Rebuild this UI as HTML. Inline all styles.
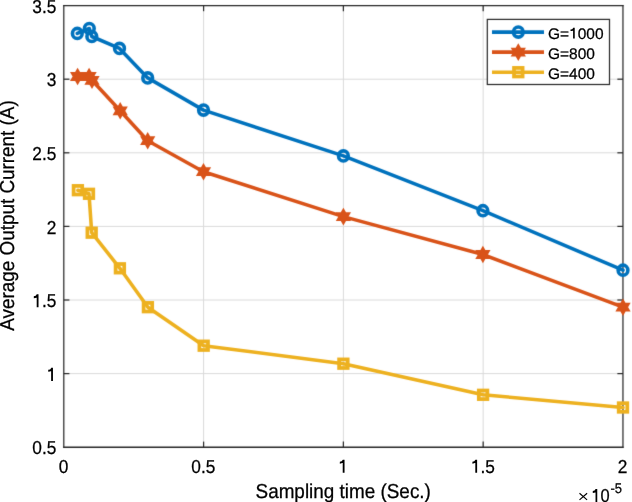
<!DOCTYPE html>
<html><head><meta charset="utf-8"><style>
html,body{margin:0;padding:0;background:#fff;width:632px;height:502px;overflow:hidden}
svg{display:block}
text{font-family:"Liberation Sans",sans-serif;text-rendering:geometricPrecision;fill:#000;stroke:#000;stroke-width:0.25px}
.h{fill:none;stroke:none}
</style></head><body>
<svg width="632" height="502" viewBox="0 0 632 502">
<defs><filter id="bl" color-interpolation-filters="sRGB" filterUnits="userSpaceOnUse" x="-10" y="-10" width="652" height="522"><feConvolveMatrix order="3" kernelMatrix="0.01000 0.08000 0.01000 0.08000 0.64000 0.08000 0.01000 0.08000 0.01000" divisor="1" edgeMode="duplicate" preserveAlpha="true"/></filter></defs>
<g filter="url(#bl)">
<rect x="-10" y="-10" width="652" height="522" fill="#fff"/>
<line x1="203.59" y1="5.6" x2="203.59" y2="447.2" stroke="#dadada" stroke-width="1"/>
<line x1="343.38" y1="5.6" x2="343.38" y2="447.2" stroke="#dadada" stroke-width="1"/>
<line x1="483.17" y1="5.6" x2="483.17" y2="447.2" stroke="#dadada" stroke-width="1"/>
<line x1="63.8" y1="373.6" x2="622.96" y2="373.6" stroke="#dadada" stroke-width="1"/>
<line x1="63.8" y1="300" x2="622.96" y2="300" stroke="#dadada" stroke-width="1"/>
<line x1="63.8" y1="226.4" x2="622.96" y2="226.4" stroke="#dadada" stroke-width="1"/>
<line x1="63.8" y1="152.8" x2="622.96" y2="152.8" stroke="#dadada" stroke-width="1"/>
<line x1="63.8" y1="79.2" x2="622.96" y2="79.2" stroke="#dadada" stroke-width="1"/>
<path d="M63.19,5.6H623.57M63.19,447.2H623.57" stroke="#262626" stroke-width="1.4" fill="none"/>
<path d="M63.8,4.9V447.9M622.96,4.9V447.9" stroke="#262626" stroke-width="1.22" fill="none"/>
<line x1="203.59" y1="447.2" x2="203.59" y2="441.6" stroke="#262626" stroke-width="1.22"/>
<line x1="203.59" y1="5.6" x2="203.59" y2="11.2" stroke="#262626" stroke-width="1.22"/>
<line x1="343.38" y1="447.2" x2="343.38" y2="441.6" stroke="#262626" stroke-width="1.22"/>
<line x1="343.38" y1="5.6" x2="343.38" y2="11.2" stroke="#262626" stroke-width="1.22"/>
<line x1="483.17" y1="447.2" x2="483.17" y2="441.6" stroke="#262626" stroke-width="1.22"/>
<line x1="483.17" y1="5.6" x2="483.17" y2="11.2" stroke="#262626" stroke-width="1.22"/>
<line x1="63.8" y1="373.6" x2="69.4" y2="373.6" stroke="#262626" stroke-width="1.22"/>
<line x1="622.96" y1="373.6" x2="617.36" y2="373.6" stroke="#262626" stroke-width="1.22"/>
<line x1="63.8" y1="300" x2="69.4" y2="300" stroke="#262626" stroke-width="1.22"/>
<line x1="622.96" y1="300" x2="617.36" y2="300" stroke="#262626" stroke-width="1.22"/>
<line x1="63.8" y1="226.4" x2="69.4" y2="226.4" stroke="#262626" stroke-width="1.22"/>
<line x1="622.96" y1="226.4" x2="617.36" y2="226.4" stroke="#262626" stroke-width="1.22"/>
<line x1="63.8" y1="152.8" x2="69.4" y2="152.8" stroke="#262626" stroke-width="1.22"/>
<line x1="622.96" y1="152.8" x2="617.36" y2="152.8" stroke="#262626" stroke-width="1.22"/>
<line x1="63.8" y1="79.2" x2="69.4" y2="79.2" stroke="#262626" stroke-width="1.22"/>
<line x1="622.96" y1="79.2" x2="617.36" y2="79.2" stroke="#262626" stroke-width="1.22"/>
<polyline points="77.3,33.45 89.3,28.5 91.8,36.5 119.5,48.4 147.7,77.9 203.5,110.1 343.4,155.9 482.9,210.7 623,270.2" fill="none" stroke="#0072BD" stroke-width="3.55" stroke-linejoin="round" stroke-linecap="round"/>
<ellipse cx="77.3" cy="33.45" rx="4.85" ry="5.05" fill="none" stroke="#0072BD" stroke-width="3.6"/>
<ellipse cx="89.3" cy="28.5" rx="4.85" ry="5.05" fill="none" stroke="#0072BD" stroke-width="3.6"/>
<ellipse cx="91.8" cy="36.5" rx="4.85" ry="5.05" fill="none" stroke="#0072BD" stroke-width="3.6"/>
<ellipse cx="119.5" cy="48.4" rx="4.85" ry="5.05" fill="none" stroke="#0072BD" stroke-width="3.6"/>
<ellipse cx="147.7" cy="77.9" rx="4.85" ry="5.05" fill="none" stroke="#0072BD" stroke-width="3.6"/>
<ellipse cx="203.5" cy="110.1" rx="4.85" ry="5.05" fill="none" stroke="#0072BD" stroke-width="3.6"/>
<ellipse cx="343.4" cy="155.9" rx="4.85" ry="5.05" fill="none" stroke="#0072BD" stroke-width="3.6"/>
<ellipse cx="482.9" cy="210.7" rx="4.85" ry="5.05" fill="none" stroke="#0072BD" stroke-width="3.6"/>
<ellipse cx="623" cy="270.2" rx="4.85" ry="5.05" fill="none" stroke="#0072BD" stroke-width="3.6"/>
<polyline points="77.6,76.5 89.1,76.5 92,80.3 120.2,110.8 147.7,140.7 203.5,171.7 343.4,216.6 482.9,254.5 623,307.2" fill="none" stroke="#D95319" stroke-width="3.55" stroke-linejoin="round" stroke-linecap="round"/>
<path d="M77.6,70.1 L75.75,73.3 L72.06,73.3 L73.9,76.5 L72.06,79.7 L75.75,79.7 L77.6,82.9 L79.45,79.7 L83.14,79.7 L81.3,76.5 L83.14,73.3 L79.45,73.3Z" fill="#D95319" stroke="#D95319" stroke-width="2.4" stroke-linejoin="miter" stroke-miterlimit="10"/>
<path d="M89.1,70.1 L87.25,73.3 L83.56,73.3 L85.4,76.5 L83.56,79.7 L87.25,79.7 L89.1,82.9 L90.95,79.7 L94.64,79.7 L92.8,76.5 L94.64,73.3 L90.95,73.3Z" fill="#D95319" stroke="#D95319" stroke-width="2.4" stroke-linejoin="miter" stroke-miterlimit="10"/>
<path d="M92,73.9 L90.15,77.1 L86.46,77.1 L88.3,80.3 L86.46,83.5 L90.15,83.5 L92,86.7 L93.85,83.5 L97.54,83.5 L95.7,80.3 L97.54,77.1 L93.85,77.1Z" fill="#D95319" stroke="#D95319" stroke-width="2.4" stroke-linejoin="miter" stroke-miterlimit="10"/>
<path d="M120.2,104.4 L118.35,107.6 L114.66,107.6 L116.5,110.8 L114.66,114 L118.35,114 L120.2,117.2 L122.05,114 L125.74,114 L123.9,110.8 L125.74,107.6 L122.05,107.6Z" fill="#D95319" stroke="#D95319" stroke-width="2.4" stroke-linejoin="miter" stroke-miterlimit="10"/>
<path d="M147.7,134.3 L145.85,137.5 L142.16,137.5 L144,140.7 L142.16,143.9 L145.85,143.9 L147.7,147.1 L149.55,143.9 L153.24,143.9 L151.4,140.7 L153.24,137.5 L149.55,137.5Z" fill="#D95319" stroke="#D95319" stroke-width="2.4" stroke-linejoin="miter" stroke-miterlimit="10"/>
<path d="M203.5,165.3 L201.65,168.5 L197.96,168.5 L199.8,171.7 L197.96,174.9 L201.65,174.9 L203.5,178.1 L205.35,174.9 L209.04,174.9 L207.2,171.7 L209.04,168.5 L205.35,168.5Z" fill="#D95319" stroke="#D95319" stroke-width="2.4" stroke-linejoin="miter" stroke-miterlimit="10"/>
<path d="M343.4,210.2 L341.55,213.4 L337.86,213.4 L339.7,216.6 L337.86,219.8 L341.55,219.8 L343.4,223 L345.25,219.8 L348.94,219.8 L347.1,216.6 L348.94,213.4 L345.25,213.4Z" fill="#D95319" stroke="#D95319" stroke-width="2.4" stroke-linejoin="miter" stroke-miterlimit="10"/>
<path d="M482.9,248.1 L481.05,251.3 L477.36,251.3 L479.2,254.5 L477.36,257.7 L481.05,257.7 L482.9,260.9 L484.75,257.7 L488.44,257.7 L486.6,254.5 L488.44,251.3 L484.75,251.3Z" fill="#D95319" stroke="#D95319" stroke-width="2.4" stroke-linejoin="miter" stroke-miterlimit="10"/>
<path d="M623,300.8 L621.15,304 L617.46,304 L619.3,307.2 L617.46,310.4 L621.15,310.4 L623,313.6 L624.85,310.4 L628.54,310.4 L626.7,307.2 L628.54,304 L624.85,304Z" fill="#D95319" stroke="#D95319" stroke-width="2.4" stroke-linejoin="miter" stroke-miterlimit="10"/>
<polyline points="77.9,190.2 89,193.8 91.7,232.7 119.9,268.3 147.9,307.2 203.7,345.7 343.4,363.7 483.1,394.8 623,407.5" fill="none" stroke="#EDB120" stroke-width="3.55" stroke-linejoin="round" stroke-linecap="round"/>
<rect x="73.62" y="185.92" width="8.56" height="8.56" fill="none" stroke="#EDB120" stroke-width="3.75"/>
<rect x="84.72" y="189.52" width="8.56" height="8.56" fill="none" stroke="#EDB120" stroke-width="3.75"/>
<rect x="87.42" y="228.42" width="8.56" height="8.56" fill="none" stroke="#EDB120" stroke-width="3.75"/>
<rect x="115.62" y="264.02" width="8.56" height="8.56" fill="none" stroke="#EDB120" stroke-width="3.75"/>
<rect x="143.62" y="302.92" width="8.56" height="8.56" fill="none" stroke="#EDB120" stroke-width="3.75"/>
<rect x="199.42" y="341.42" width="8.56" height="8.56" fill="none" stroke="#EDB120" stroke-width="3.75"/>
<rect x="339.12" y="359.42" width="8.56" height="8.56" fill="none" stroke="#EDB120" stroke-width="3.75"/>
<rect x="478.82" y="390.52" width="8.56" height="8.56" fill="none" stroke="#EDB120" stroke-width="3.75"/>
<rect x="618.72" y="403.22" width="8.56" height="8.56" fill="none" stroke="#EDB120" stroke-width="3.75"/>
<rect x="487.3" y="19.4" width="122.2" height="65.1" fill="#fff" stroke="#262626" stroke-width="1.22"/>
<line x1="492" y1="32.1" x2="544" y2="32.1" stroke="#0072BD" stroke-width="3.55"/>
<ellipse cx="518.3" cy="32.1" rx="4.85" ry="5.05" fill="none" stroke="#0072BD" stroke-width="3.6"/>
<line x1="492" y1="52.1" x2="544" y2="52.1" stroke="#D95319" stroke-width="3.55"/>
<path d="M518.3,45.7 L516.45,48.9 L512.76,48.9 L514.6,52.1 L512.76,55.3 L516.45,55.3 L518.3,58.5 L520.15,55.3 L523.84,55.3 L522,52.1 L523.84,48.9 L520.15,48.9Z" fill="#D95319" stroke="#D95319" stroke-width="2.4" stroke-linejoin="miter" stroke-miterlimit="10"/>
<line x1="492" y1="72.2" x2="544" y2="72.2" stroke="#EDB120" stroke-width="3.55"/>
<rect x="514.02" y="67.92" width="8.56" height="8.56" fill="none" stroke="#EDB120" stroke-width="3.75"/>
</g>
<g style="filter:grayscale(1)">
<g transform="translate(548,38.5) scale(1.013,1.0)"><text font-size="15.3">G=<tspan class="h">1</tspan>000</text><path transform="translate(20.84,0) scale(15.3)" d="M0.31,0.005V-0.695M0.31,-0.675C0.275,-0.575 0.2,-0.535 0.09,-0.535" fill="none" stroke="#000" stroke-width="0.105"/></g>
<text transform="translate(548,58.7) scale(1.013,1.0)" font-size="15.3">G=800</text>
<text transform="translate(548,78.8) scale(1.013,1.0)" font-size="15.3">G=400</text>
<text transform="translate(56.3,454.45) scale(1.0,1.08)" text-anchor="end" font-size="17.3">0.5</text>
<g transform="translate(56.3,380.85) scale(1.0,1.08)"><text text-anchor="end" font-size="17.3"><tspan class="h">1</tspan></text><path transform="translate(-9.62,0) scale(17.3)" d="M0.31,0.005V-0.695M0.31,-0.675C0.275,-0.575 0.2,-0.535 0.09,-0.535" fill="none" stroke="#000" stroke-width="0.105"/></g>
<g transform="translate(56.3,307.25) scale(1.0,1.08)"><text text-anchor="end" font-size="17.3"><tspan class="h">1</tspan>.5</text><path transform="translate(-24.05,0) scale(17.3)" d="M0.31,0.005V-0.695M0.31,-0.675C0.275,-0.575 0.2,-0.535 0.09,-0.535" fill="none" stroke="#000" stroke-width="0.105"/></g>
<text transform="translate(56.3,233.65) scale(1.0,1.08)" text-anchor="end" font-size="17.3">2</text>
<text transform="translate(56.3,160.05) scale(1.0,1.08)" text-anchor="end" font-size="17.3">2.5</text>
<text transform="translate(56.3,86.45) scale(1.0,1.08)" text-anchor="end" font-size="17.3">3</text>
<text transform="translate(56.3,12.85) scale(1.0,1.08)" text-anchor="end" font-size="17.3">3.5</text>
<text transform="translate(63.5,472.65) scale(1.0,1.08)" text-anchor="middle" font-size="17.3">0</text>
<text transform="translate(203.29,472.65) scale(1.0,1.08)" text-anchor="middle" font-size="17.3">0.5</text>
<g transform="translate(343.08,472.65) scale(1.0,1.08)"><text text-anchor="middle" font-size="17.3"><tspan class="h">1</tspan></text><path transform="translate(-4.81,0) scale(17.3)" d="M0.31,0.005V-0.695M0.31,-0.675C0.275,-0.575 0.2,-0.535 0.09,-0.535" fill="none" stroke="#000" stroke-width="0.105"/></g>
<g transform="translate(482.87,472.65) scale(1.0,1.08)"><text text-anchor="middle" font-size="17.3"><tspan class="h">1</tspan>.5</text><path transform="translate(-12.02,0) scale(17.3)" d="M0.31,0.005V-0.695M0.31,-0.675C0.275,-0.575 0.2,-0.535 0.09,-0.535" fill="none" stroke="#000" stroke-width="0.105"/></g>
<text transform="translate(622.66,472.65) scale(1.0,1.08)" text-anchor="middle" font-size="17.3">2</text>
<path d="M579.5,493.3L587.1,499.9M587.1,493.3L579.5,499.9" stroke="#000" stroke-width="1.15" fill="none"/>
<g transform="translate(591.3,502) scale(0.95,1.08)"><text font-size="17.3"><tspan class="h">1</tspan>0</text><path transform="translate(0,0) scale(17.3)" d="M0.31,0.005V-0.695M0.31,-0.675C0.275,-0.575 0.2,-0.535 0.09,-0.535" fill="none" stroke="#000" stroke-width="0.105"/></g>
<text transform="translate(610.5,492.5) scale(1.0,1.08)" font-size="13">-5</text>
<text transform="translate(343.2,498) scale(1.011,1.08)" text-anchor="middle" font-size="18.7">Sampling time (Sec.)</text>
<text transform="translate(14.2,215.5) rotate(-90) scale(1.0097,1.08)" text-anchor="middle" font-size="18.7">Average Output Current (A)</text>
</g>
</svg>
</body></html>
